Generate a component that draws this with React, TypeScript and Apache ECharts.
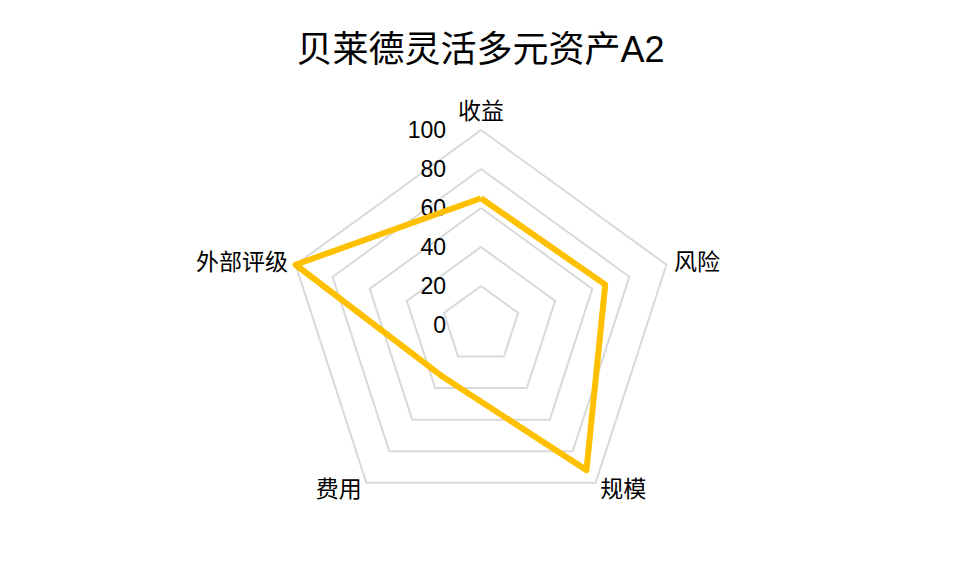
import { useEffect, useRef } from "react";
import * as echarts from "echarts";

const titleText = "贝莱德灵活多元资产A2";
// counter-clockwise from the top, as ECharts lays radar axes out
const indicatorNames = ["收益", "外部评级", "费用", "规模", "风险"];
const fundValues = [65, 100, 33, 92, 67];
const axisMax = 100;

const FONT = "'Liberation Sans', 'Noto Sans CJK SC', sans-serif";

export default function App() {
  const chartRef = useRef<HTMLDivElement>(null);

  useEffect(() => {
    if (!chartRef.current) return;
    document.body.style.margin = "0";
    const chart = echarts.init(chartRef.current, null, { renderer: "svg" });

    const option: echarts.EChartsOption = {
      animation: false,
      backgroundColor: "#fff",
      title: {
        text: titleText,
        left: "center",
        top: 26,
        textStyle: { fontSize: 36, fontWeight: "normal", color: "#000", fontFamily: FONT },
      },
      radar: {
        center: [481, 325],
        radius: 195,
        startAngle: 90,
        splitNumber: 5,
        shape: "polygon",
        axisName: { color: "#000", fontSize: 23, fontFamily: FONT },
        nameGap: 8,
        axisLine: { show: false },
        axisTick: { show: false },
        axisLabel: { show: false },
        splitArea: { show: false },
        splitLine: { lineStyle: { color: "#d9d9d9", width: 2 } },
        indicator: indicatorNames.map((name, i) =>
          i === 0
            ? {
                name,
                min: 0,
                max: axisMax,
                axisLabel: {
                  show: true,
                  color: "#000",
                  fontSize: 23,
                  fontFamily: FONT,
                  margin: 35,
                  showMinLabel: true,
                },
              }
            : { name, min: 0, max: axisMax }
        ) as any,
      },
      series: [
        {
          type: "radar",
          symbol: "none",
          lineStyle: { color: "#ffc000", width: 6 },
          itemStyle: { color: "#ffc000" },
          data: [{ value: fundValues, name: titleText }],
        },
      ],
    };

    chart.setOption(option);
    return () => {
      chart.dispose();
    };
  }, []);

  return <div ref={chartRef} style={{ width: 961, height: 576 }} />;
}
